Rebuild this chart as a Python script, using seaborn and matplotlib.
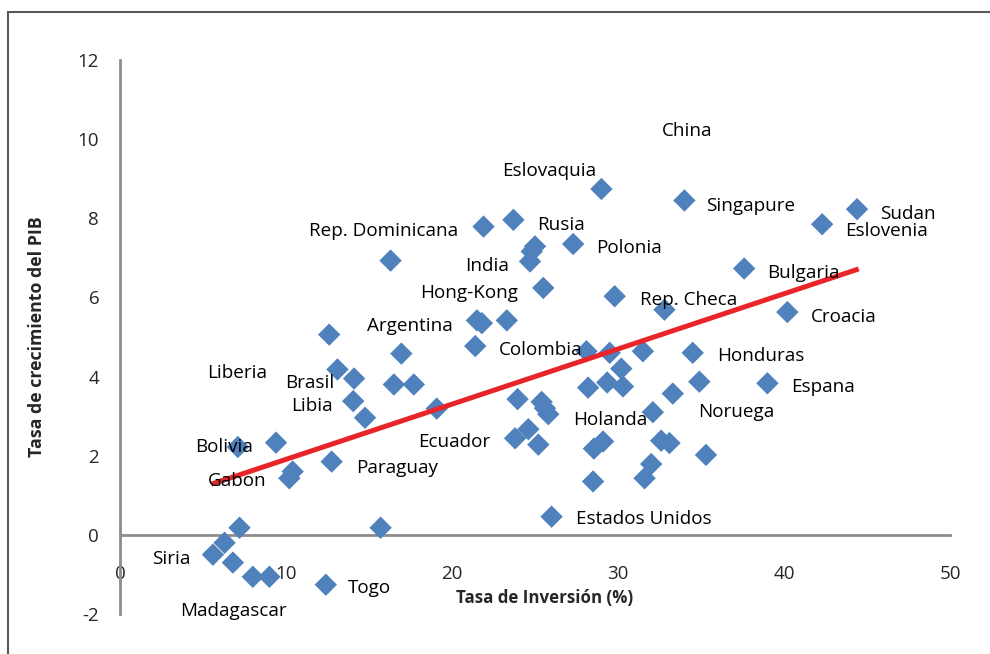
import numpy as np
import pandas as pd
import matplotlib
matplotlib.use("Agg")
import matplotlib.pyplot as plt
import matplotlib.patches as mpatches
import seaborn as sns

sns.set_style("white")
plt.rcParams['font.family'] = ['Open Sans', 'DejaVu Sans']
plt.rcParams['axes.unicode_minus'] = False

# Data
inversion = [5.6, 6.3, 6.8, 7.2, 8.0, 9.0, 12.4, 15.7,
             7.1, 9.4, 10.4, 10.2, 12.75, 12.6, 13.1, 14.1, 14.05, 14.76, 16.95, 16.5, 17.7, 19.08, 21.4,
             29.0, 21.9, 23.7, 25.0, 24.8, 24.7, 27.3, 16.3, 25.5, 29.8, 21.5, 21.8, 23.3,
             28.1, 29.5, 31.5, 34.5, 30.2, 28.2, 29.35, 30.3, 34.9, 33.3, 23.95, 25.4, 25.6, 25.8, 32.1,
             23.8, 24.6, 25.2, 28.55, 29.1, 32.6, 33.1, 35.3, 32.0, 31.6, 28.5, 26.0,
             34.0, 44.4, 42.3, 37.6, 32.8, 40.2, 39.0]
crecimiento = [-0.5, -0.2, -0.7, 0.18, -1.06, -1.06, -1.26, 0.18,
               2.22, 2.33, 1.6, 1.43, 1.85, 5.06, 4.18, 3.95, 3.38, 2.96, 4.58, 3.8, 3.8, 3.19, 4.77,
               8.74, 7.79, 7.96, 7.29, 7.16, 6.91, 7.35, 6.93, 6.24, 6.03, 5.42, 5.35, 5.42,
               4.64, 4.6, 4.64, 4.6, 4.2, 3.72, 3.85, 3.75, 3.87, 3.57, 3.43, 3.36, 3.2, 3.05, 3.1,
               2.44, 2.67, 2.28, 2.18, 2.36, 2.38, 2.32, 2.02, 1.79, 1.43, 1.35, 0.46,
               8.45, 8.23, 7.85, 6.73, 5.69, 5.63, 3.83]

# trend line (Excel linear trendline), end points
tendencia_x = [5.5, 44.5]
tendencia_y = [1.28, 6.72]

paises = ["China", "Eslovaquia", "Singapure", "Sudan", "Eslovenia", "Rep. Dominicana", "Rusia",
          "Polonia", "India", "Bulgaria", "Hong-Kong", "Rep. Checa", "Croacia", "Argentina",
          "Colombia", "Honduras", "Liberia", "Brasil", "Espana", "Libia", "Noruega", "Holanda",
          "Ecuador", "Bolivia", "Paraguay", "Gabon", "Estados Unidos", "Siria", "Togo", "Madagascar"]
etiqueta_x = [32.65, 23.0, 35.3, 45.8, 43.7, 11.4, 25.1, 28.7, 20.8, 39.0, 18.1, 31.3, 41.6, 14.9,
              22.8, 36.0, 5.24, 9.94, 40.4, 10.3, 34.8, 27.3, 17.95, 4.5, 14.2, 5.3, 27.5, 1.93, 13.7, 3.6]
etiqueta_y = [10.2, 9.2, 8.3, 8.12, 7.69, 7.67, 7.84, 7.24, 6.79, 6.61, 6.11, 5.93, 5.5, 5.27,
              4.67, 4.52, 4.09, 3.84, 3.74, 3.26, 3.11, 2.91, 2.35, 2.23, 1.7, 1.35, 0.39, -0.62, -1.35, -1.93]

df = pd.DataFrame({'inv': inversion, 'pib': crecimiento})

fig = plt.figure(figsize=(9.9, 6.54), dpi=100)
ax = fig.add_axes([120/990, 1 - 614/654, 830/990, 554/654])

sns.scatterplot(data=df, x='inv', y='pib', marker='D', s=130, color='#4F81BD',
                edgecolor='none', ax=ax, zorder=3)
sns.lineplot(x=tendencia_x, y=tendencia_y, color='#E8262A', lw=3.6, ax=ax, zorder=3)
ax.lines[-1].set_solid_capstyle('butt')

for nombre, tx, ty in zip(paises, etiqueta_x, etiqueta_y):
    ax.text(tx, ty, nombre, ha='left', va='center', fontsize=13.6, color='black', zorder=4)

ax.set_xlim(0, 50)
ax.set_ylim(-2, 12)
ax.set_xticks(range(0, 51, 10))
ax.set_yticks(range(-2, 13, 2))
ax.spines['left'].set_position(('data', 0))
ax.spines['bottom'].set_position(('data', 0))
ax.spines['top'].set_visible(False)
ax.spines['right'].set_visible(False)
for side in ['left', 'bottom']:
    ax.spines[side].set_color('#8C8C8C')
    ax.spines[side].set_linewidth(2)
ax.tick_params(axis='both', length=0, labelsize=13.5)
ax.tick_params(axis='x', pad=22)
ax.tick_params(axis='y', pad=15)
ax.patch.set_alpha(0)

ax.set_xlabel('Tasa de Inversión (%)', fontsize=12.2, fontweight='bold')
ax.set_ylabel('Tasa de crecimiento del PIB', fontsize=12.8, fontweight='bold')
ax.xaxis.set_label_coords(0.512, 0.045)
ax.yaxis.set_label_coords(-0.089, 0.5)

# outer frame
fig.add_artist(mpatches.Rectangle((8/990, -0.1), 1.2, 1.1 - 12/654, transform=fig.transFigure,
                                  fill=False, edgecolor='#595959', lw=1.5))

fig.savefig('out.png', dpi=100)
